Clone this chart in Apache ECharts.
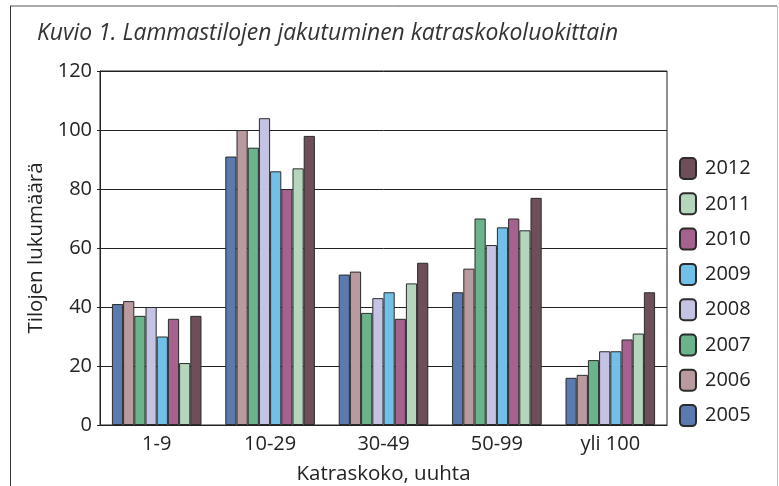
<!DOCTYPE html>
<html>
<head>
<meta charset="utf-8">
<script src="https://cdn.jsdelivr.net/npm/echarts@6/dist/echarts.min.js"></script>
<style>
  html, body { margin: 0; padding: 0; background: #fff; }
  #main { width: 779px; height: 486px; }
</style>
</head>
<body>
<div id="main"></div>
<script>
// luokat ja vuodet
var categories = ['1-9', '10-29', '30-49', '50-99', 'yli 100'];
var years = ['2005', '2006', '2007', '2008', '2009', '2010', '2011', '2012'];

// tilojen lukumäärä vuosittain
var v2005 = [41, 91, 51, 45, 16];
var v2006 = [42, 100, 52, 53, 17];
var v2007 = [37, 94, 38, 70, 22];
var v2008 = [40, 104, 43, 61, 25];
var v2009 = [30, 86, 45, 67, 25];
var v2010 = [36, 80, 36, 70, 29];
var v2011 = [21, 87, 48, 66, 31];
var v2012 = [37, 98, 55, 77, 45];
var values = [v2005, v2006, v2007, v2008, v2009, v2010, v2011, v2012];

var yTicks = [0, 20, 40, 60, 80, 100, 120];

var colors = ['#5a7ab0', '#b89a9f', '#6bb38a', '#c5c3e3', '#72bfe8', '#a5628f', '#b5d5bd', '#6e4f59'];
var fontName = '"Open Sans", sans-serif';

var myChart = echarts.init(document.getElementById('main'));

var series = [];
for (var i = 0; i < years.length; i++) {
    series.push({
        name: years[i],
        type: 'bar',
        data: values[i],
        barGap: 0,
        barCategoryGap: '21%',
        itemStyle: {color: colors[i], borderColor: '#2b2b2b', borderWidth: 1},
        emphasis: {disabled: true}
    });
}

var option = {
    animation: false,
    backgroundColor: '#fff',
    textStyle: {fontFamily: fontName},
    title: {
        text: 'Kuvio 1. Lammastilojen jakutuminen katraskokoluokittain',
        left: 32,
        top: 17,
        textStyle: {fontFamily: fontName, fontStyle: 'italic', fontWeight: 'normal', fontSize: 22.9, color: '#333'}
    },
    legend: {
        orient: 'vertical',
        left: 679,
        top: 157,
        padding: 0,
        itemWidth: 16,
        itemHeight: 21,
        itemGap: 12.3,
        data: years.slice().reverse(),
        textStyle: {fontFamily: fontName, fontSize: 20, color: '#222', padding: [0, 0, 0, 4]}
    },
    graphic: [
        {type: 'line', shape: {x1: 10, y1: 6, x2: 777, y2: 6}, style: {stroke: '#555', lineWidth: 1}},
        {type: 'line', shape: {x1: 10.5, y1: 6, x2: 10.5, y2: 486}, style: {stroke: '#333', lineWidth: 1}},
        {type: 'line', shape: {x1: 777.5, y1: 6, x2: 777.5, y2: 486}, style: {stroke: '#bbb', lineWidth: 1}}
    ],
    grid: {
        left: 100, right: 112, top: 71, bottom: 61,
        outerBoundsMode: 'none',
        show: true, borderColor: '#222', borderWidth: 1
    },
    xAxis: {
        type: 'category',
        data: categories,
        name: 'Katraskoko, uuhta',
        nameLocation: 'middle',
        nameGap: 39,
        nameTextStyle: {fontFamily: fontName, fontSize: 20.5, color: '#222'},
        axisLine: {lineStyle: {color: '#222'}},
        axisTick: {inside: true, length: 9, lineStyle: {color: '#222'}},
        axisLabel: {fontFamily: fontName, fontSize: 20, color: '#222', margin: 9}
    },
    yAxis: {
        type: 'value',
        min: yTicks[0],
        max: yTicks[yTicks.length - 1],
        interval: 20,
        name: 'Tilojen lukumäärä',
        nameLocation: 'middle',
        nameGap: 50,
        nameTextStyle: {fontFamily: fontName, fontSize: 20.5, color: '#222'},
        axisLine: {show: true, lineStyle: {color: '#222'}},
        axisTick: {show: true, length: 3, lineStyle: {color: '#222'}},
        axisLabel: {fontFamily: fontName, fontSize: 20, color: '#222', margin: 8},
        splitLine: {lineStyle: {color: '#222', width: 1}}
    },
    series: series
};

myChart.setOption(option);
</script>
</body>
</html>
